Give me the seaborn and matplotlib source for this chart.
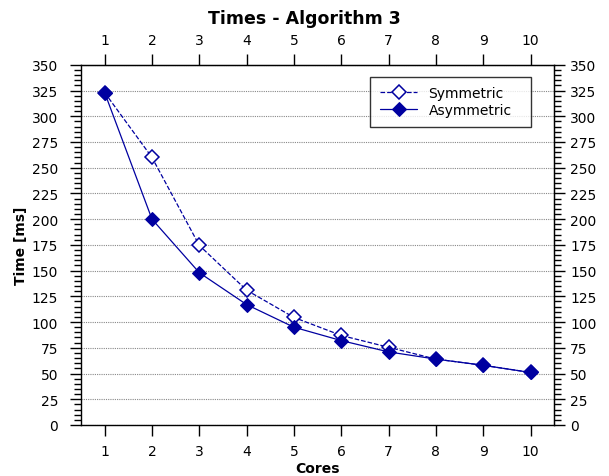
import pandas as pd
import matplotlib
matplotlib.use("Agg")
import matplotlib.pyplot as plt
from matplotlib.ticker import MultipleLocator
import seaborn as sns

cores = [1, 2, 3, 4, 5, 6, 7, 8, 9, 10]
symmetric = [323, 260, 174.5, 131, 104.5, 87, 75.5, 64, 58, 51]
asymmetric = [323, 200, 148, 117, 95, 82, 71, 64, 58, 51]

df = pd.DataFrame({"Cores": cores * 2,
                   "Time": symmetric + asymmetric,
                   "Series": ["Symmetric"] * 10 + ["Asymmetric"] * 10})

sns.set_style("ticks")
plt.rcParams['font.family'] = ['DejaVu Sans']
plt.rcParams['text.color'] = 'black'
plt.rcParams['axes.labelcolor'] = 'black'
plt.rcParams['xtick.color'] = 'black'
plt.rcParams['ytick.color'] = 'black'

fig = plt.figure(figsize=(6.09, 4.77), dpi=100)
ax = fig.add_axes([0.133, 0.107, 0.777, 0.755])

color = "#0000a0"
sns.lineplot(data=df[df.Series == "Symmetric"], x="Cores", y="Time", ax=ax,
             color=color, linestyle="--", linewidth=0.9, marker="D",
             markersize=7.5, markerfacecolor="white", markeredgecolor=color,
             markeredgewidth=1.1, label="Symmetric")
sns.lineplot(data=df[df.Series == "Asymmetric"], x="Cores", y="Time", ax=ax,
             color=color, linestyle="-", linewidth=0.9, marker="D",
             markersize=7.5, markerfacecolor=color, markeredgecolor=color,
             label="Asymmetric")

ax.set_xlim(0.5, 10.5)
ax.set_ylim(0, 350)
ax.set_xticks(cores)
ax.yaxis.set_major_locator(MultipleLocator(25))
ax.yaxis.set_minor_locator(MultipleLocator(5))
ax.grid(axis="y", which="major", color="#888888", linestyle=(0, (1, 1)), linewidth=0.8)

ax.tick_params(axis="both", which="both", direction="out", labelsize=10,
               top=False, right=False, width=1)
ax.tick_params(axis="x", which="major", length=8, pad=5.5)
ax.tick_params(axis="y", which="major", length=8, pad=8.5)
ax.tick_params(axis="y", which="minor", length=5)
for s in ax.spines.values():
    s.set_linewidth(1.0)
    s.set_color("black")

# mirrored axes on top and right
top = ax.secondary_xaxis("top")
top.set_xticks(cores)
top.tick_params(direction="out", length=8, width=1, pad=5, labelsize=10)
right = ax.secondary_yaxis("right")
right.yaxis.set_major_locator(MultipleLocator(25))
right.yaxis.set_minor_locator(MultipleLocator(5))
right.tick_params(which="both", direction="out", width=1, labelsize=10)
right.tick_params(which="major", length=8, pad=3.5)
right.tick_params(which="minor", length=5)

ax.set_xlabel("Cores", fontsize=10, fontweight="bold", labelpad=2.5)
ax.set_ylabel("Time [ms]", fontsize=10, fontweight="bold", labelpad=3)
fig.text(0.5, 1 - 18.5 / 477, "Times - Algorithm 3", ha="center", va="center",
         fontsize=12.5, fontweight="bold")

leg = ax.legend(loc="upper left", bbox_to_anchor=(0.611, 0.5, 0.340, 0.4675),
                mode="expand", borderaxespad=0, frameon=True, fancybox=False,
                fontsize=10, handlelength=2.7, handletextpad=0.8,
                borderpad=0.7, labelspacing=0.2)
leg.get_frame().set_edgecolor("black")
leg.get_frame().set_linewidth(1.0)

fig.savefig("out.png", dpi=100)
